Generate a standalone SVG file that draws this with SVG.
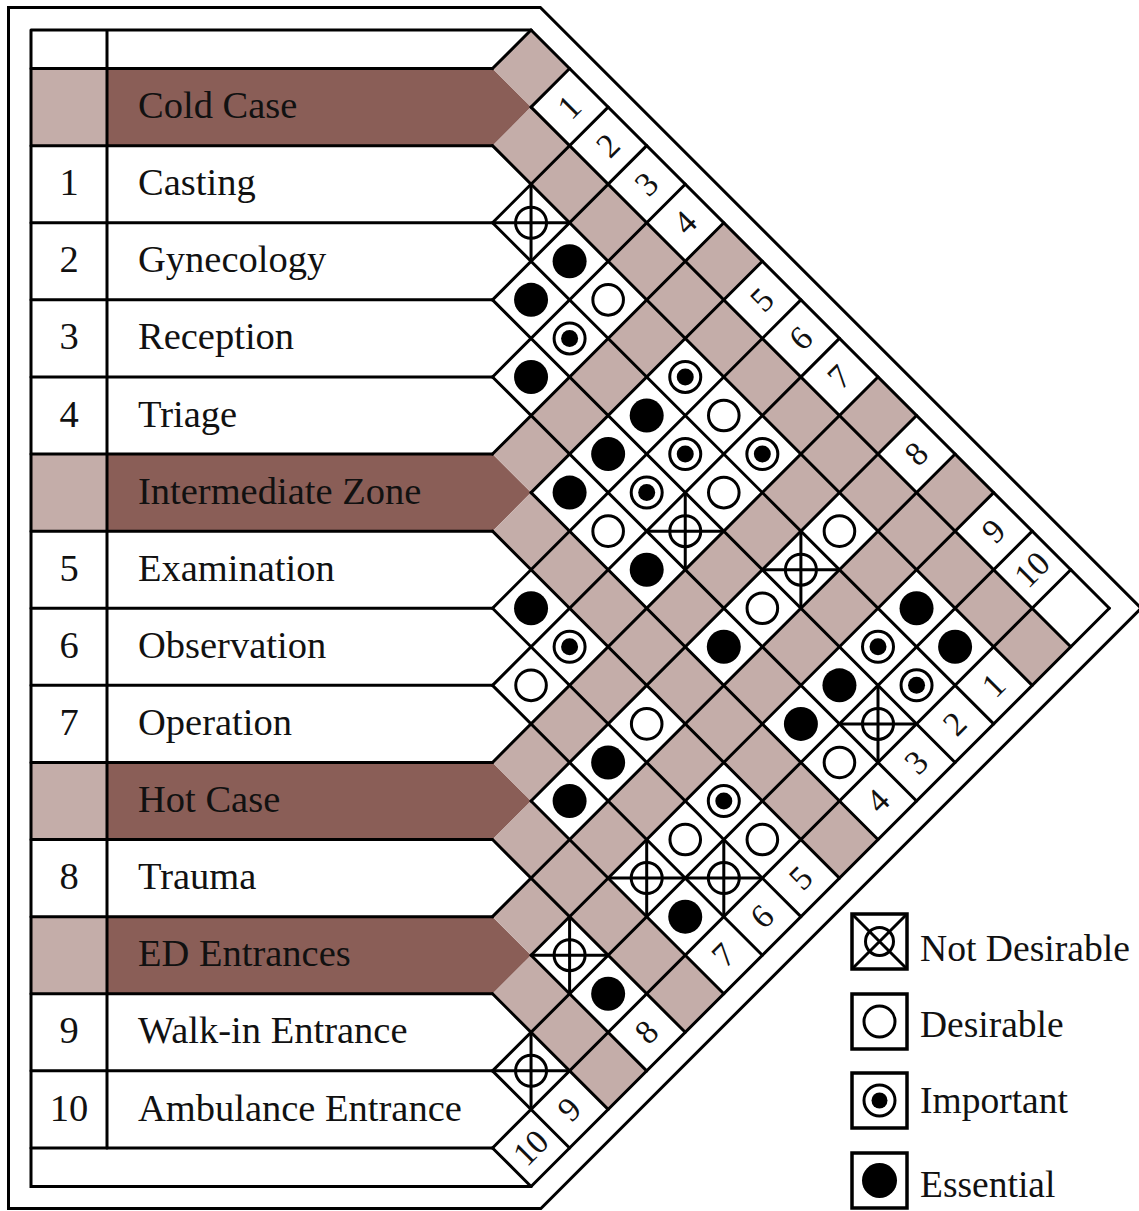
<svg xmlns="http://www.w3.org/2000/svg" xmlns:xlink="http://www.w3.org/1999/xlink" width="1139" height="1211" viewBox="0 0 1139 1211">
  <style>
    .ln { stroke: #000; stroke-width: 3; fill: none; stroke-linecap: round; }
    .lb { fill: #C4ADA9; }
    .db { fill: #8A5E57; }
    .t { font-family: "Liberation Serif", "Times New Roman", serif; font-size: 38.5px; fill: #111; }
    .num { text-anchor: middle; }
    .dg { font-family: "Liberation Serif", "Times New Roman", serif; font-size: 34px; fill: #111; text-anchor: middle; }
  </style>
  <defs>
    <!-- relationship marks, drawn at a cell centre; diamond half-diagonal = 38.55 -->
    <g id="nd">
      <circle r="15.5" fill="none" stroke="#000" stroke-width="3"/>
      <path d="M-38.55,0 H38.55 M0,-38.55 V38.55" stroke="#000" stroke-width="3"/>
    </g>
    <circle id="de" r="15.3" fill="#fff" stroke="#000" stroke-width="3"/>
    <g id="im">
      <circle r="15.5" fill="#fff" stroke="#000" stroke-width="3"/>
      <circle r="8.5" fill="#000"/>
    </g>
    <circle id="es" r="17" fill="#000"/>
  </defs>

  <rect width="1139" height="1211" fill="#fff"/>

  <!-- outer frame -->
  <path class="ln" d="M8.5,7.5 H540.35 L1141.1,608.25 L540.85,1208.5 H8.5 Z"/>

  <!-- row fills for the zone headers -->
  <g id="row-cold">
    <rect class="lb" x="31" y="68.55" width="76" height="77.1"/>
    <polygon class="db" points="107,68.55 492.5,68.55 531.05,107.1 492.5,145.65 107,145.65"/>
  </g>
  <g id="row-intermediate">
    <rect class="lb" x="31" y="454.05" width="76" height="77.1"/>
    <polygon class="db" points="107,454.05 492.5,454.05 531.05,492.6 492.5,531.15 107,531.15"/>
  </g>
  <g id="row-hot">
    <rect class="lb" x="31" y="762.45" width="76" height="77.1"/>
    <polygon class="db" points="107,762.45 492.5,762.45 531.05,801 492.5,839.55 107,839.55"/>
  </g>
  <g id="row-ed">
    <rect class="lb" x="31" y="916.65" width="76" height="77.1"/>
    <polygon class="db" points="107,916.65 492.5,916.65 531.05,955.2 492.5,993.75 107,993.75"/>
  </g>

  <!-- shaded strips of the zone headers in the matrix -->
  <g id="strips">
    <polygon class="lb" points="492.5,68.55 531.05,30 569.6,68.55 531.05,107.1"/>
    <polygon class="lb" points="492.5,145.65 531.05,107.1 1070.75,646.8 1032.2,685.35"/>
    <polygon class="lb" points="492.5,454.05 723.8,222.75 762.35,261.3 531.05,492.6"/>
    <polygon class="lb" points="492.5,531.15 531.05,492.6 878,839.55 839.45,878.1"/>
    <polygon class="lb" points="492.5,762.45 878,376.95 916.55,415.5 531.05,801"/>
    <polygon class="lb" points="492.5,839.55 531.05,801 723.8,993.75 685.25,1032.3"/>
    <polygon class="lb" points="492.5,916.65 955.1,454.05 993.65,492.6 531.05,955.2"/>
    <polygon class="lb" points="492.5,993.75 531.05,955.2 646.7,1070.85 608.15,1109.4"/>
  </g>

  <!-- table and matrix lines -->
  <g id="grid" class="ln">
    <path d="M31,30 H531.05 M31,30 V1186.5 H531.05 M107,30 V1147.95"/>
    <path d="M31,68.55 H492.5 M31,145.65 H492.5 M31,222.75 H492.5 M31,299.85 H492.5 M31,376.95 H492.5 M31,454.05 H492.5 M31,531.15 H492.5 M31,608.25 H492.5 M31,685.35 H492.5 M31,762.45 H492.5 M31,839.55 H492.5 M31,916.65 H492.5 M31,993.75 H492.5 M31,1070.85 H492.5 M31,1147.95 H492.5"/>
    <!-- down-right diagonals -->
    <path d="M531.05,30 L1109.3,608.25
             M531.05,107.1 L1070.75,646.8
             M492.5,145.65 L1032.2,685.35
             M492.5,222.75 L993.65,723.9
             M492.5,299.85 L955.1,762.45
             M492.5,376.95 L916.55,801
             M531.05,492.6 L878,839.55
             M492.5,531.15 L839.45,878.1
             M492.5,608.25 L800.9,916.65
             M492.5,685.35 L762.35,955.2
             M531.05,801 L723.8,993.75
             M492.5,839.55 L685.25,1032.3
             M531.05,955.2 L646.7,1070.85
             M492.5,993.75 L608.15,1109.4
             M492.5,1070.85 L569.6,1147.95
             M492.5,1147.95 L531.05,1186.5"/>
    <!-- up-right diagonals -->
    <path d="M492.5,68.55 L531.05,30
             M531.05,107.1 L569.6,68.55
             M492.5,222.75 L608.15,107.1
             M492.5,299.85 L646.7,145.65
             M492.5,376.95 L685.25,184.2
             M492.5,454.05 L723.8,222.75
             M531.05,492.6 L762.35,261.3
             M492.5,608.25 L800.9,299.85
             M492.5,685.35 L839.45,338.4
             M492.5,762.45 L878,376.95
             M531.05,801 L916.55,415.5
             M492.5,916.65 L955.1,454.05
             M531.05,955.2 L993.65,492.6
             M492.5,1070.85 L1032.2,531.15
             M492.5,1147.95 L1070.75,569.7
             M531.05,1186.5 L1109.3,608.25"/>
  </g>

  <!-- relationship marks -->
  <g id="marks">
    <use href="#nd" x="531.05" y="222.75"/>
    <use href="#es" x="569.6" y="261.3"/>
    <use href="#es" x="531.05" y="299.85"/>
    <use href="#de" x="608.15" y="299.85"/>
    <use href="#im" x="569.6" y="338.4"/>
    <use href="#es" x="531.05" y="376.95"/>
    <use href="#im" x="685.25" y="376.95"/>
    <use href="#es" x="646.7" y="415.5"/>
    <use href="#de" x="723.8" y="415.5"/>
    <use href="#es" x="608.15" y="454.05"/>
    <use href="#im" x="685.25" y="454.05"/>
    <use href="#im" x="762.35" y="454.05"/>
    <use href="#es" x="569.6" y="492.6"/>
    <use href="#im" x="646.7" y="492.6"/>
    <use href="#de" x="723.8" y="492.6"/>
    <use href="#de" x="608.15" y="531.15"/>
    <use href="#nd" x="685.25" y="531.15"/>
    <use href="#de" x="839.45" y="531.15"/>
    <use href="#es" x="646.7" y="569.7"/>
    <use href="#nd" x="800.9" y="569.7"/>
    <use href="#es" x="531.05" y="608.25"/>
    <use href="#de" x="762.35" y="608.25"/>
    <use href="#es" x="916.55" y="608.25"/>
    <use href="#im" x="569.6" y="646.8"/>
    <use href="#es" x="723.8" y="646.8"/>
    <use href="#im" x="878" y="646.8"/>
    <use href="#es" x="955.1" y="646.8"/>
    <use href="#de" x="531.05" y="685.35"/>
    <use href="#es" x="839.45" y="685.35"/>
    <use href="#im" x="916.55" y="685.35"/>
    <use href="#de" x="646.7" y="723.9"/>
    <use href="#es" x="800.9" y="723.9"/>
    <use href="#nd" x="878" y="723.9"/>
    <use href="#es" x="608.15" y="762.45"/>
    <use href="#de" x="839.45" y="762.45"/>
    <use href="#es" x="569.6" y="801"/>
    <use href="#im" x="723.8" y="801"/>
    <use href="#de" x="685.25" y="839.55"/>
    <use href="#de" x="762.35" y="839.55"/>
    <use href="#nd" x="646.7" y="878.1"/>
    <use href="#nd" x="723.8" y="878.1"/>
    <use href="#es" x="685.25" y="916.65"/>
    <use href="#nd" x="569.6" y="955.2"/>
    <use href="#es" x="608.15" y="993.75"/>
    <use href="#nd" x="531.05" y="1070.85"/>
  </g>

  <!-- row names and numbers -->
  <g id="labels" class="t">
    <text x="138" y="118">Cold Case</text>
    <text class="num" x="69" y="195">1</text><text x="138" y="195">Casting</text>
    <text class="num" x="69" y="272">2</text><text x="138" y="272">Gynecology</text>
    <text class="num" x="69" y="349">3</text><text x="138" y="349">Reception</text>
    <text class="num" x="69" y="426.5">4</text><text x="138" y="426.5">Triage</text>
    <text x="138" y="503.5">Intermediate Zone</text>
    <text class="num" x="69" y="580.5">5</text><text x="138" y="580.5">Examination</text>
    <text class="num" x="69" y="658">6</text><text x="138" y="658">Observation</text>
    <text class="num" x="69" y="735">7</text><text x="138" y="735">Operation</text>
    <text x="138" y="812">Hot Case</text>
    <text class="num" x="69" y="889">8</text><text x="138" y="889">Trauma</text>
    <text x="138" y="966">ED Entrances</text>
    <text class="num" x="69" y="1043">9</text><text x="138" y="1043">Walk-in Entrance</text>
    <text class="num" x="69" y="1120.5">10</text><text x="138" y="1120.5">Ambulance Entrance</text>
  </g>

  <!-- column numbers along both outer edges of the matrix -->
  <g id="edge-numbers" class="dg">
    <text transform="translate(569.6,107.1) rotate(-45)" y="11">1</text>
    <text transform="translate(608.15,145.65) rotate(-45)" y="11">2</text>
    <text transform="translate(646.7,184.2) rotate(-45)" y="11">3</text>
    <text transform="translate(685.25,222.75) rotate(-45)" y="11">4</text>
    <text transform="translate(762.35,299.85) rotate(-45)" y="11">5</text>
    <text transform="translate(800.9,338.4) rotate(-45)" y="11">6</text>
    <text transform="translate(839.45,376.95) rotate(-45)" y="11">7</text>
    <text transform="translate(916.55,454.05) rotate(-45)" y="11">8</text>
    <text transform="translate(993.65,531.15) rotate(-45)" y="11">9</text>
    <text transform="translate(1032.2,569.7) rotate(-45)" y="11">10</text>

    <text transform="translate(993.65,685.35) rotate(-45)" y="11">1</text>
    <text transform="translate(955.1,723.9) rotate(-45)" y="11">2</text>
    <text transform="translate(916.55,762.45) rotate(-45)" y="11">3</text>
    <text transform="translate(878,801) rotate(-45)" y="11">4</text>
    <text transform="translate(800.9,878.1) rotate(-45)" y="11">5</text>
    <text transform="translate(762.35,916.65) rotate(-45)" y="11">6</text>
    <text transform="translate(723.8,955.2) rotate(-45)" y="11">7</text>
    <text transform="translate(646.7,1032.3) rotate(-45)" y="11">8</text>
    <text transform="translate(569.6,1109.4) rotate(-45)" y="11">9</text>
    <text transform="translate(531.05,1147.95) rotate(-45)" y="11">10</text>
  </g>

  <!-- legend -->
  <g id="legend">
    <g id="legend-not-desirable">
      <rect x="852" y="914" width="55" height="55" fill="#fff" stroke="#000" stroke-width="3.5"/>
      <path d="M852,914 L907,969 M907,914 L852,969" stroke="#000" stroke-width="3"/>
      <circle cx="879.5" cy="941.5" r="14" fill="none" stroke="#000" stroke-width="3"/>
      <text class="t" x="920" y="961" style="font-size:38px" textLength="210" lengthAdjust="spacingAndGlyphs">Not Desirable</text>
    </g>
    <g id="legend-desirable">
      <rect x="852" y="994" width="55" height="55" fill="#fff" stroke="#000" stroke-width="3.5"/>
      <circle cx="879.5" cy="1021.5" r="15.5" fill="none" stroke="#000" stroke-width="3"/>
      <text class="t" x="920" y="1037" style="font-size:37.5px">Desirable</text>
    </g>
    <g id="legend-important">
      <rect x="852" y="1073" width="55" height="55" fill="#fff" stroke="#000" stroke-width="3.5"/>
      <circle cx="879.5" cy="1100.5" r="15.5" fill="none" stroke="#000" stroke-width="3"/>
      <circle cx="879.5" cy="1100.5" r="8" fill="#000"/>
      <text class="t" x="920" y="1113" style="font-size:37.5px">Important</text>
    </g>
    <g id="legend-essential">
      <rect x="852" y="1153" width="55" height="55" fill="#fff" stroke="#000" stroke-width="3.5"/>
      <circle cx="879.5" cy="1180.5" r="17.5" fill="#000"/>
      <text class="t" x="920" y="1197" style="font-size:37.5px">Essential</text>
    </g>
  </g>
</svg>
